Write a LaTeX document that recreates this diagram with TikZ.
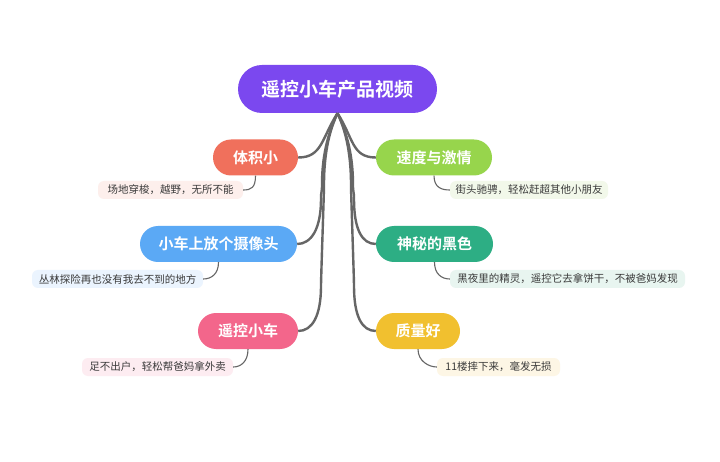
\documentclass[tikz,border=0pt]{standalone}
\usepackage{fontspec}
\setmainfont{Noto Sans CJK SC}
\newfontfamily\cjkbold{Noto Sans CJK SC Bold}
\usetikzlibrary{calc}
\definecolor{rootc}{HTML}{7B48EF}
\definecolor{redc}{HTML}{F0705C}
\definecolor{greenc}{HTML}{97D54C}
\definecolor{bluec}{HTML}{5BA9F5}
\definecolor{tealc}{HTML}{2DAE84}
\definecolor{pinkc}{HTML}{F3668B}
\definecolor{yellowc}{HTML}{F1C02F}
\definecolor{redl}{HTML}{FDEFEC}
\definecolor{greenl}{HTML}{F2F8EA}
\definecolor{bluel}{HTML}{EBF4FE}
\definecolor{teall}{HTML}{E8F5F0}
\definecolor{pinkl}{HTML}{FDECF1}
\definecolor{yellowl}{HTML}{FDF6E5}
\definecolor{linec}{HTML}{666666}
\definecolor{subtxt}{HTML}{3A3A3A}
\tikzset{
  rootbox/.style={fill=rootc, text=white, rounded corners=24pt, minimum height=48pt, inner sep=0pt, font=\cjkbold\fontsize{19}{22}\selectfont},
  topic/.style={fill=#1, text=white, rounded corners=18pt, minimum height=36pt, inner sep=0pt, font=\cjkbold\fontsize{15}{18}\selectfont},
  subbox/.style={fill=#1, text=subtxt, rounded corners=6pt, minimum height=18pt, inner sep=0pt, font=\fontsize{10.5}{12}\selectfont},
  mainline/.style={draw=linec, line width=2.4pt},
  subline/.style={draw=linec, line width=1.1pt},
}
\begin{document}
\begin{tikzpicture}[x=1pt,y=-1pt]
\useasboundingbox[fill=white] (0,0) rectangle (720,462);
\node[rootbox, minimum width=199pt] (root) at (337.5,89) {遥控小车产品视频};
% left topics
\node[topic=redc, minimum width=85pt] (t1) at (255.5,157.5) {体积小};
\node[topic=bluec, minimum width=157pt] (t3) at (218.5,244) {小车上放个摄像头};
\node[topic=pinkc, minimum width=100pt] (t5) at (248,331) {遥控小车};
% right topics
\node[topic=greenc, minimum width=116pt] (t2) at (434,157.5) {速度与激情};
\node[topic=tealc, minimum width=117pt] (t4) at (434.5,244) {神秘的黑色};
\node[topic=yellowc, minimum width=84pt] (t6) at (418,331) {质量好};
% subtopics
\node[subbox=redl, minimum width=145pt] (s1) at (170.5,190) {场地穿梭，越野，无所不能};
\node[subbox=greenl, minimum width=158pt] (s2) at (529,190) {街头驰骋，轻松赶超其他小朋友};
\node[subbox=bluel, minimum width=171pt] (s3) at (117.5,279) {丛林探险再也没有我去不到的地方};
\node[subbox=teall, minimum width=235pt] (s4) at (567.5,279) {黑夜里的精灵，遥控它去拿饼干，不被爸妈发现};
\node[subbox=pinkl, minimum width=151pt] (s5) at (157.5,367) {足不出户，轻松帮爸妈拿外卖};
\node[subbox=yellowl, minimum width=123pt] (s6) at (498.5,367) {11楼摔下来，毫发无损};
% main connectors
\draw[mainline] (root.south) .. controls ($(root.south)+(-16,25)$) and ($(t1.east)+(24,0)$) .. (t1.east);
\draw[mainline] (root.south) .. controls ($(root.south)+(16,25)$) and ($(t2.west)+(-24,0)$) .. (t2.west);
\foreach \t/\xa/\xb in {t3/322/321,t5/324/321}
  \draw[mainline] (root.south) .. controls +(-7,15) and +(0,-35) .. (\xa,185)
     .. controls +(0,8) and +(0,-8) .. ($(\xb,0)!(\t.east)!(\xb,1)+(0,-45)$)
     .. controls +(0,30) and +(14,0) .. (\t.east);
\foreach \t/\xa/\xb in {t4/353/354,t6/351/354}
  \draw[mainline] (root.south) .. controls +(7,15) and +(0,-35) .. (\xa,185)
     .. controls +(0,8) and +(0,-8) .. ($(\xb,0)!(\t.west)!(\xb,1)+(0,-45)$)
     .. controls +(0,30) and +(-14,0) .. (\t.west);
% sub connectors
\draw[subline] (t1.south) .. controls +(0,12) and +(8,0) .. (s1.east);
\draw[subline] (t3.south) .. controls +(0,12) and +(8,0) .. (s3.east);
\draw[subline] (t5.south) .. controls +(0,12) and +(8,0) .. (s5.east);
\draw[subline] (t2.south) .. controls +(0,12) and +(-8,0) .. (s2.west);
\draw[subline] (t4.south) .. controls +(0,12) and +(-8,0) .. (s4.west);
\draw[subline] (t6.south) .. controls +(0,12) and +(-8,0) .. (s6.west);
\end{tikzpicture}
\end{document}
